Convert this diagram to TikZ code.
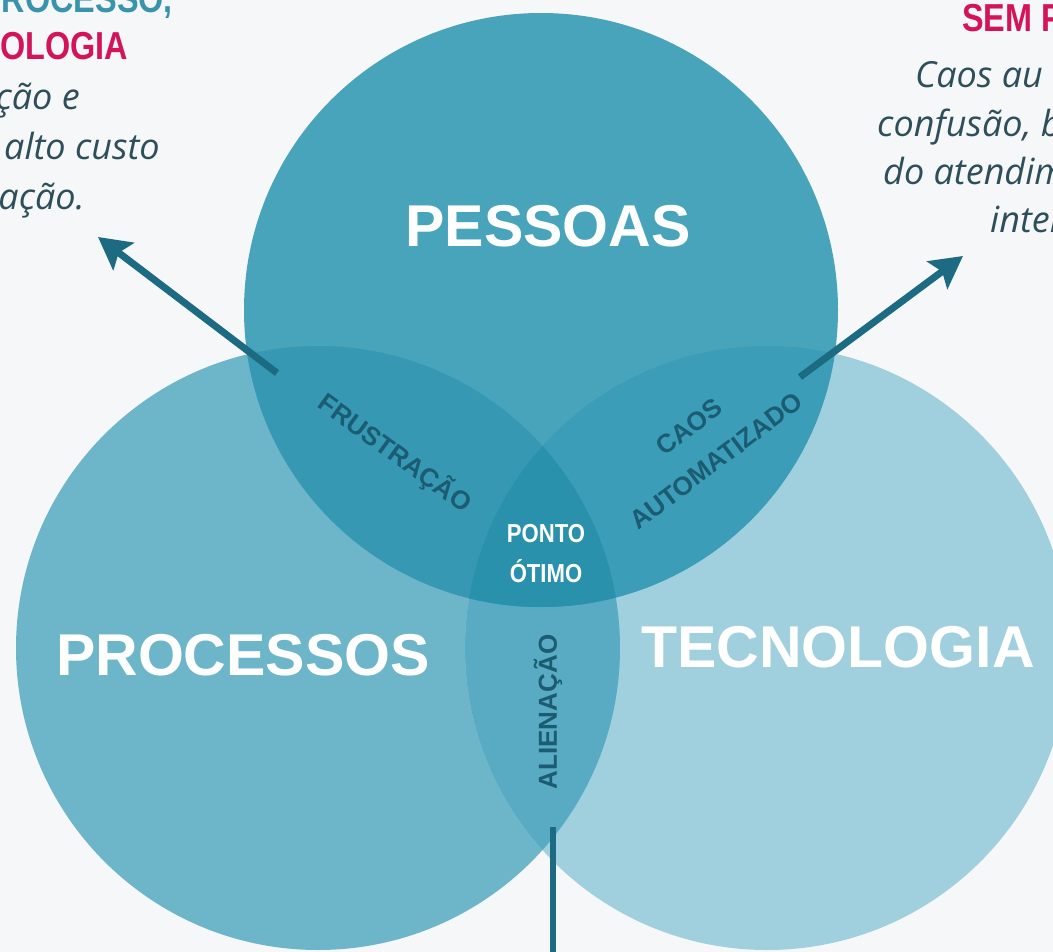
\documentclass[tikz,border=0pt]{standalone}
\usepackage{fontspec}
\setmainfont{Liberation Sans}
\newfontfamily\notefont{Open Sans}
\usetikzlibrary{arrows.meta}
\definecolor{bgray}{HTML}{F6F7F8}
\definecolor{pessoas}{HTML}{48A4BB}
\definecolor{processos}{HTML}{6DB6CA}
\definecolor{tecno}{HTML}{A0CFDD}
\definecolor{frust}{HTML}{3698B3}
\definecolor{caos}{HTML}{3B9DB7}
\definecolor{alien}{HTML}{58ABC2}
\definecolor{otimo}{HTML}{2A91AD}
\definecolor{seta}{HTML}{1C6B82}
\definecolor{rotulo}{HTML}{1B5C72}
\definecolor{rosa}{HTML}{D4145A}
\definecolor{titulo}{HTML}{3A93AD}
\definecolor{nota}{HTML}{2E4F5A}
\begin{document}
\begin{tikzpicture}[x=1pt, y=-1pt,
    big/.style={text=white, inner sep=0pt, anchor=base, font=\fontsize{59}{59}\selectfont\bfseries},
    small/.style={text=rotulo, inner sep=0pt, font=\fontsize{26}{26}\selectfont\bfseries},
    head/.style={inner sep=0pt, anchor=base west, font=\fontsize{39}{39}\selectfont\bfseries},
    note/.style={text=nota, inner sep=0pt, anchor=base west, font=\notefont\itshape\fontsize{36}{40}\selectfont},
    pointer/.style={draw=seta, line width=7pt, -{Stealth[length=32pt, width=34pt, inset=6pt]}}]
  \useasboundingbox (0, 0) rectangle (1053, 952);
  \clip (0, 0) rectangle (1053, 952);
  \fill[bgray] (0, 0) rectangle (1053, 952);
  \coordinate (cpe) at (541, 310);
  \coordinate (cpr) at (318, 648);
  \coordinate (cte) at (767, 648);
  \fill[processos] (cpr) circle [radius=302pt];
  \fill[tecno] (cte) circle [radius=302pt];
  \begin{scope}
    \clip (cpr) circle [radius=302pt];
    \fill[alien] (cte) circle [radius=302pt];
  \end{scope}
  \fill[pessoas] (cpe) circle [radius=297pt];
  \begin{scope}
    \clip (cpe) circle [radius=297pt];
    \fill[frust] (cpr) circle [radius=302pt];
    \fill[caos] (cte) circle [radius=302pt];
    \clip (cpr) circle [radius=302pt];
    \fill[otimo] (cte) circle [radius=302pt];
  \end{scope}
  \node[big] (pe) at (548, 247) {PESSOAS};
  \node[big] (pr) at (243, 675) {PROCESSOS};
  \node[big] (te) at (838, 667) {TECNOLOGIA};
  \node[small, rotate=-36] (fr) at (395, 453) {FRUSTRAÇÃO};
  \node[small, rotate=37] (ca) at (689, 427) {CAOS};
  \node[small, rotate=37] (au) at (716, 461) {AUTOMATIZADO};
  \node[small, rotate=90] (al) at (548, 712) {ALIENAÇÃO};
  \node[small, text=white, anchor=base] (po) at (546, 542) {\scalebox{0.85}[1]{PONTO}};
  \node[small, text=white, anchor=base] (ot) at (546, 582) {\scalebox{0.85}[1]{ÓTIMO}};
  \node[head, text=titulo, anchor=base east] (t1) at (173, 13) {\scalebox{0.83}[1]{ROCESSO,}};
  \node[head, text=rosa, anchor=base east] (t2) at (128, 60) {\scalebox{0.83}[1]{OLOGIA}};
  \node[note, anchor=base east] (n1) at (80, 110) {ção e};
  \node[note, anchor=base east] (n2) at (160, 160) {alto custo};
  \node[note, anchor=base east] (n3) at (85, 210) {ação.};
  \node[head, text=rosa] (t3) at (962, 32) {\scalebox{0.83}[1]{SEM P}};
  \node[note] (n4) at (915, 88) {Caos au};
  \node[note] (n5) at (877, 137) {confusão, b};
  \node[note] (n6) at (883, 185) {do atendim};
  \node[note] (n7) at (990, 233) {inter};
  \coordinate (ini1) at (277, 373);
  \coordinate (fim1) at (98, 237);
  \coordinate (ini2) at (800, 377);
  \coordinate (fim2) at (963, 256);
  \coordinate (ini3) at (553, 827);
  \coordinate (fim3) at (553, 960);
  \draw[pointer] (ini1) -- (fim1);
  \draw[pointer] (ini2) -- (fim2);
  \draw[draw=seta, line width=6.5pt] (ini3) -- (fim3);
\end{tikzpicture}
\end{document}
